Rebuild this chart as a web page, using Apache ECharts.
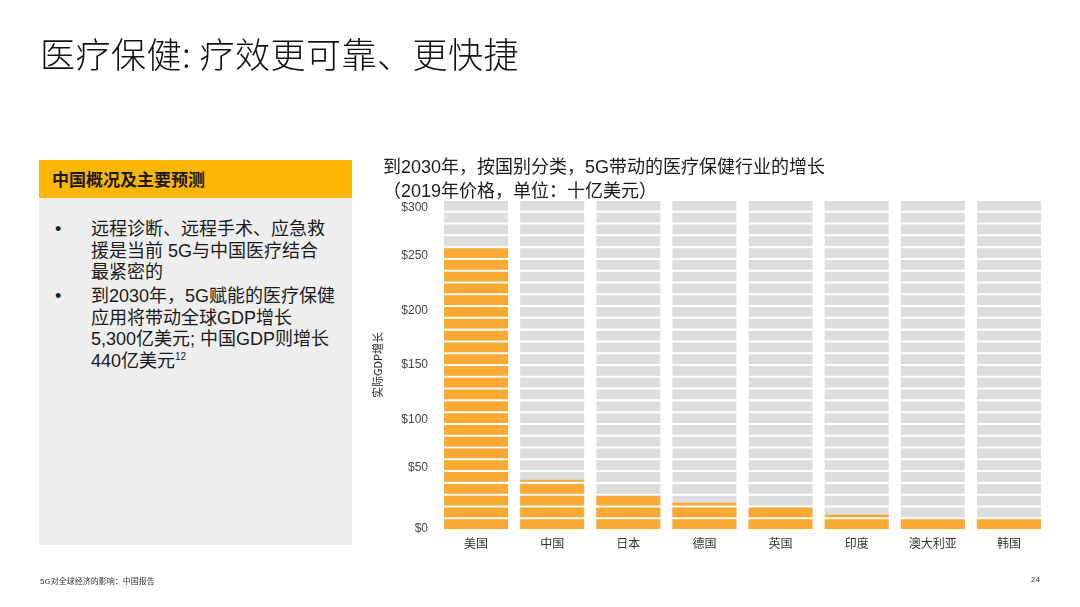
<!DOCTYPE html>
<html>
<head>
<meta charset="utf-8">
<script src="https://cdn.jsdelivr.net/npm/echarts@6/dist/echarts.min.js"></script>
<style>
  body { margin: 0; background: #fff; font-family: "Liberation Sans", "Noto Sans CJK SC", sans-serif; }
  #main { position: absolute; left: 0; top: 0; width: 1080px; height: 607px; }
  .ov { position: absolute; color: #1a1a1a; white-space: nowrap; }
  #title { left: 40px; top: 27px; font-size: 35px; font-weight: 300; font-family: "Noto Sans CJK SC", sans-serif; color: #111; letter-spacing: 0.5px; }
  #panelHead { left: 39px; top: 160px; width: 313px; height: 38px; background: #FFB600; }
  #panelHead span { position: absolute; left: 13px; top: 9px; font-size: 17px; font-weight: bold; font-family: "Noto Sans CJK SC", sans-serif; line-height: 20px; }
  #panelBody { left: 39px; top: 198px; width: 313px; height: 347px; background: #EEEEEE; }
  .bul { position: absolute; left: 0; font-size: 18px; line-height: 21.5px; }
  .bul b { position: absolute; left: 16px; font-weight: normal; }
  .bul div { position: absolute; left: 52px; white-space: nowrap; }
  sup { font-size: 10px; vertical-align: 0; position: relative; top: -7px; }
  #sub { left: 383px; top: 155px; font-size: 18px; line-height: 24px; }
  #foot { left: 40px; top: 575px; font-size: 8px; color: #333; }
  #page { left: 1031px; top: 575px; font-size: 8px; color: #333; }
</style>
</head>
<body>
<div id="main"></div>
<div class="ov" id="title">医疗保健: 疗效更可靠、更快捷</div>
<div class="ov" id="panelHead"><span>中国概况及主要预测</span></div>
<div class="ov" id="panelBody">
  <div class="bul" style="top:21px"><b>•</b><div>远程诊断、远程手术、应急救<br>援是当前 5G与中国医疗结合<br>最紧密的</div></div>
  <div class="bul" style="top:88px"><b>•</b><div>到2030年，5G赋能的医疗保健<br>应用将带动全球GDP增长<br>5,300亿美元; 中国GDP则增长<br>440亿美元<sup>12</sup></div></div>
</div>
<div class="ov" id="sub">到2030年，按国别分类，5G带动的医疗保健行业的增长<br>（2019年价格，单位：十亿美元）</div>
<div class="ov" id="foot">5G对全球经济的影响：中国报告</div>
<div class="ov" id="page">24</div>
<script>
// 各国 5G 带动的医疗保健行业增长（十亿美元）
const countries = ['美国', '中国', '日本', '德国', '英国', '印度', '澳大利亚', '韩国'];
const growth = [257, 45, 32, 24, 21, 13, 10, 10];
const axisMax = 300;
const yTicks = [0, 50, 100, 150, 200, 250, 300];
const stripeCount = 28;

var chart = echarts.init(document.getElementById('main'), null, { renderer: 'canvas' });

var stripe = {
    type: 'pictorialBar',
    symbol: 'rect',
    symbolRepeat: stripeCount,
    symbolSize: [64, 9.75],
    symbolBoundingData: axisMax,
    barWidth: 64,
    barGap: '-100%',
    silent: true
};

var option = {
    animation: false,
    backgroundColor: '#fff',
    grid: { left: 438, right: 33, top: 201, bottom: 78 },
    xAxis: {
        type: 'category',
        data: countries,
        axisLine: { show: false },
        axisTick: { show: false },
        axisLabel: { color: '#333', fontSize: 12, margin: 8, fontFamily: 'Noto Sans CJK SC' }
    },
    yAxis: {
        type: 'value',
        min: 0,
        max: axisMax,
        interval: 50,
        name: '实际GDP增长',
        nameLocation: 'middle',
        nameRotate: 90,
        nameGap: 55,
        nameTextStyle: { color: '#222', fontSize: 11, fontFamily: 'Noto Sans CJK SC' },
        splitLine: { show: false },
        axisLine: { show: false },
        axisTick: { show: false },
        axisLabel: {
            color: '#444',
            fontSize: 12,
            margin: 10,
            fontFamily: 'Liberation Sans',
            // 原图中 $300 和 $50 的标签略有偏移
            formatter: function (v) {
                if (yTicks.indexOf(v) < 0) return '';
                if (v === 300) return '{dn|$' + v + '}';
                if (v === 50) return '{up|$' + v + '}';
                return '$' + v;
            },
            rich: {
                dn: { color: '#444', fontSize: 12, fontFamily: 'Liberation Sans', padding: [14, 0, 0, 0] },
                up: { color: '#444', fontSize: 12, fontFamily: 'Liberation Sans', padding: [0, 0, 14, 0] }
            }
        }
    },
    series: [
        Object.assign({}, stripe, {
            name: 'bg',
            z: 2,
            itemStyle: { color: '#DCDDDF' },
            data: countries.map(function () { return axisMax; })
        }),
        Object.assign({}, stripe, {
            name: '增长',
            z: 3,
            symbolClip: true,
            itemStyle: { color: '#FAAA32' },
            data: growth
        })
    ]
};

chart.setOption(option);
</script>
</body>
</html>
